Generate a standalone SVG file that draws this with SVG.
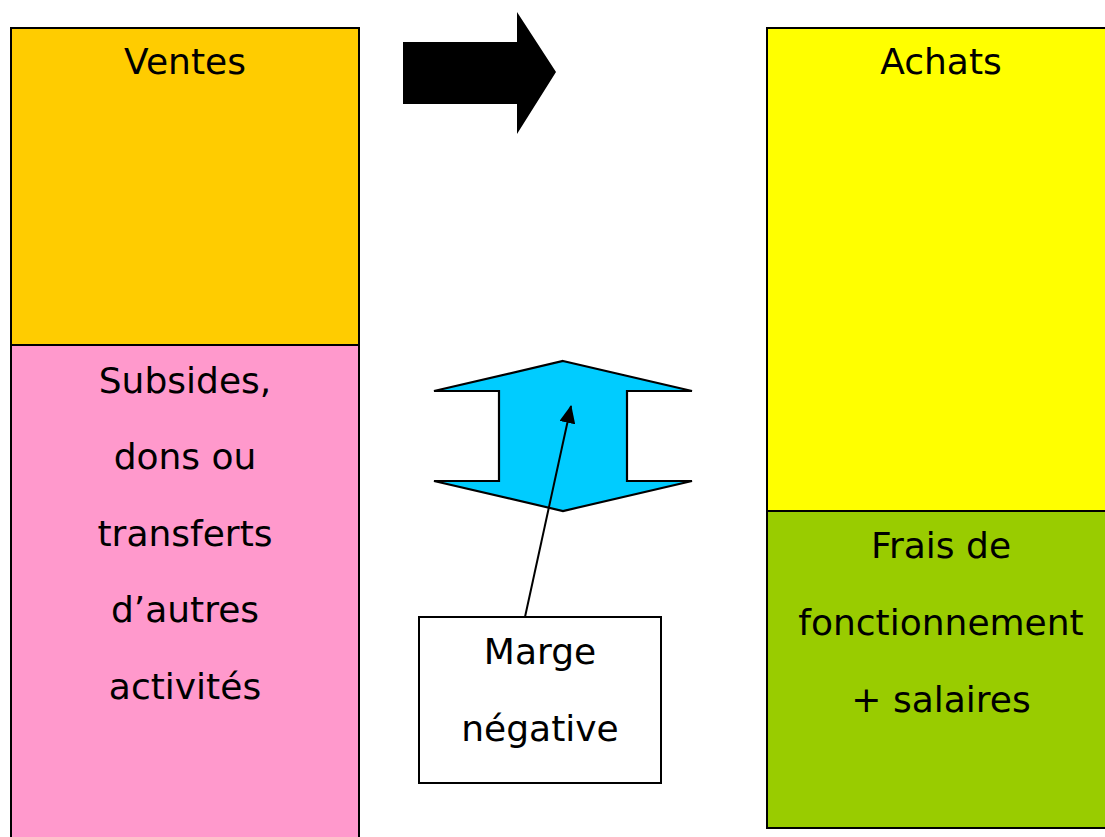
<svg xmlns="http://www.w3.org/2000/svg" width="1105" height="837" viewBox="0 0 1105 837">
<defs>
<style>
.box{stroke:#000;stroke-width:2}
.t{font-family:"DejaVu Sans","Liberation Sans",sans-serif;font-size:36px;fill:#000;text-anchor:middle}
</style>
<marker id="ah" markerWidth="18" markerHeight="16" refX="17" refY="8" orient="auto" markerUnits="userSpaceOnUse" viewBox="0 0 18 16">
<path d="M0,0 L18,8 L0,16 z" fill="#000"/>
</marker>
</defs>
<rect width="1105" height="837" fill="#fff"/>
<g id="ventes">
<rect class="box" x="11" y="28" width="348" height="317" fill="#ffcc00"/>
<text class="t" x="185" y="74">Ventes</text>
</g>
<g id="subsides">
<rect class="box" x="11" y="345" width="348" height="500" fill="#ff99cc"/>
<text class="t" x="185" y="393">Subsides,</text>
<text class="t" x="185" y="469">dons ou</text>
<text class="t" x="185" y="546">transferts</text>
<text class="t" x="185" y="622">d’autres</text>
<text class="t" x="185" y="699">activités</text>
</g>
<g id="achats">
<rect class="box" x="767" y="28" width="350" height="483" fill="#ffff00"/>
<text class="t" x="941" y="74">Achats</text>
</g>
<g id="frais">
<rect class="box" x="767" y="511" width="350" height="317" fill="#99cc00"/>
<text class="t" x="941" y="558">Frais de</text>
<text class="t" x="941" y="635">fonctionnement</text>
<text class="t" x="941" y="712">+ salaires</text>
</g>
<g id="fleche">
<polygon points="403,42 517,42 517,12 556,72 517,134 517,104 403,104" fill="#000"/>
</g>
<g id="double-fleche">
<polygon points="563,361 692,391 627,391 627,481 692,481 563,511 434,481 499,481 499,391 434,391" fill="#00ccff" stroke="#000" stroke-width="2.2" stroke-linejoin="miter"/>
</g>
<g id="marge">
<rect class="box" x="419" y="617" width="242" height="166" fill="#fff"/>
<text class="t" x="540" y="664">Marge</text>
<text class="t" x="540" y="741">négative</text>
</g>
<g id="connectors">
<line x1="525" y1="617" x2="571" y2="406" stroke="#000" stroke-width="2" marker-end="url(#ah)"/>
</g>
</svg>
